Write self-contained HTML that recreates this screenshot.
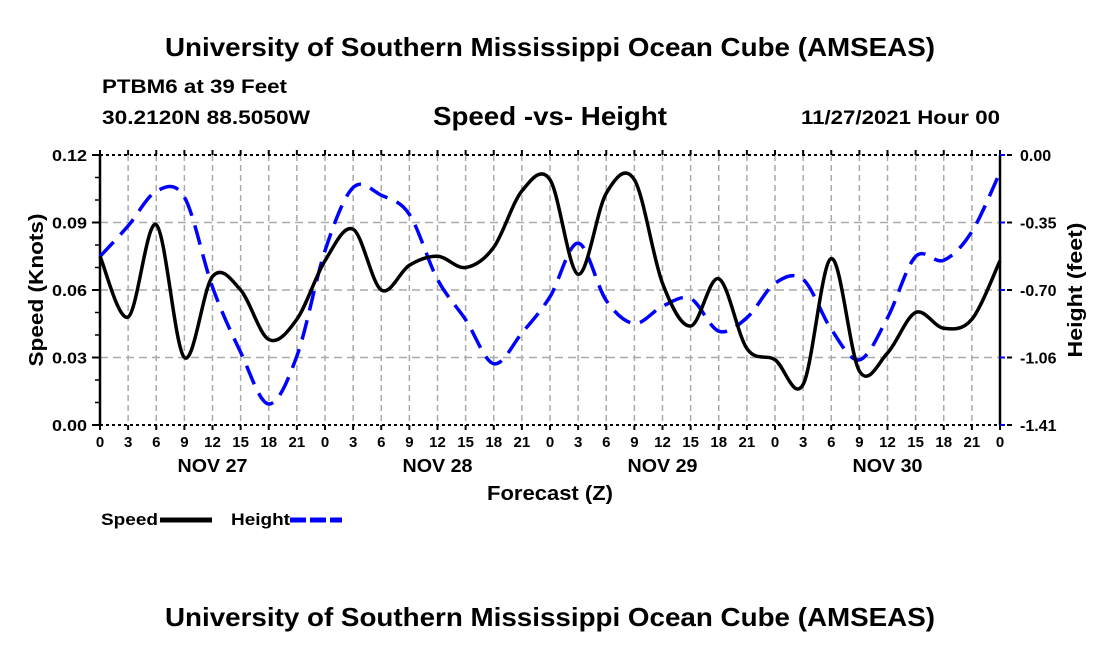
<!DOCTYPE html>
<html><head><meta charset="utf-8"><style>
body{margin:0;background:#fff;width:1100px;height:650px;overflow:hidden;font-family:"Liberation Sans",Arial,sans-serif}
svg text{font-family:"Liberation Sans",Arial,sans-serif;font-weight:bold;fill:#000}
</style></head><body>
<svg id="c" width="1100" height="650">
<text x="165" y="56" font-size="26" textLength="770" lengthAdjust="spacingAndGlyphs">University of Southern Mississippi Ocean Cube (AMSEAS)</text>
<text x="102" y="93" font-size="19" textLength="185" lengthAdjust="spacingAndGlyphs">PTBM6 at 39 Feet</text>
<text x="102" y="124" font-size="19" textLength="208" lengthAdjust="spacingAndGlyphs">30.2120N  88.5050W</text>
<text x="433" y="125" font-size="26" textLength="234" lengthAdjust="spacingAndGlyphs">Speed -vs- Height</text>
<text x="801" y="124" font-size="19" textLength="199" lengthAdjust="spacingAndGlyphs">11/27/2021 Hour 00</text>
<text x="165" y="626" font-size="26" textLength="770" lengthAdjust="spacingAndGlyphs">University of Southern Mississippi Ocean Cube (AMSEAS)</text>
<g id="plot"></g>
</svg>
<script>
const hours=[0,3,6,9,12,15,18,21,24,27,30,33,36,39,42,45,48,51,54,57,60,63,66,69,72,75,78,81,84,87,90,93,96];
const speed=[0.075,0.048,0.089,0.030,0.066,0.060,0.038,0.047,0.073,0.087,0.060,0.071,0.075,0.070,0.079,0.104,0.109,0.067,0.103,0.109,0.063,0.044,0.065,0.034,0.029,0.018,0.074,0.024,0.032,0.050,0.043,0.047,0.073];
const height=[-0.53,-0.37,-0.19,-0.22,-0.69,-1.03,-1.30,-1.05,-0.50,-0.17,-0.21,-0.31,-0.65,-0.86,-1.09,-0.93,-0.74,-0.46,-0.76,-0.88,-0.79,-0.75,-0.92,-0.85,-0.67,-0.65,-0.91,-1.07,-0.85,-0.53,-0.55,-0.40,-0.09];
const speedTicks=["0.00","0.03","0.06","0.09","0.12"];
const heightTicks=["-1.41","-1.06","-0.70","-0.35","0.00"];
const hourLabels=["0","3","6","9","12","15","18","21"];
const dayLabels=["NOV 27","NOV 28","NOV 29","NOV 30"];
const X0=100,X1=1000,Y0=155,Y1=425;
const xs=h=>X0+(X1-X0)*h/96;
const ys=v=>Y1-(Y1-Y0)*v/0.12;
const yh=v=>Y0+(Y1-Y0)*(-v)/1.41;
const g=document.getElementById('plot');const NS="http://www.w3.org/2000/svg";
function el(t,a,txt){const e=document.createElementNS(NS,t);for(const k in a)e.setAttribute(k,a[k]);if(txt!==undefined)e.textContent=txt;g.appendChild(e);return e;}
for(let i=1;i<32;i++){const x=xs(i*3);
const e=el('line',{x1:x,x2:x,y1:Y0,y2:Y1,stroke:'#aaa','stroke-width':1.5,'stroke-dasharray':'6,4'});

}
for(let i=1;i<4;i++){const y=ys(i*0.03);
const e=el('line',{x1:X0,x2:X1,y1:y,y2:y,stroke:'#aaa','stroke-width':1.5,'stroke-dasharray':'8,5'});

}
[Y0,Y1].forEach(y=>{const e=el('line',{x1:X0,x2:X1,y1:y,y2:y,stroke:'#000','stroke-width':2,'stroke-dasharray':'3,3'});

});
let a=el('line',{x1:X0,x2:X0,y1:Y0,y2:Y1,stroke:'#000','stroke-width':2.5});


a=el('line',{x1:X1,x2:X1,y1:Y0,y2:Y1,stroke:'#000','stroke-width':2.5});


for(let i=0;i<=32;i++){const x=xs(i*3);
el('line',{x1:x,x2:x,y1:Y1,y2:Y1+5,stroke:'#000','stroke-width':2});
el('line',{x1:x,x2:x,y1:Y0-5,y2:Y0,stroke:'#000','stroke-width':2});
const t=el('text',{x:x,y:Y1+22,'font-size':15,'text-anchor':'middle'},hourLabels[i%8]);

}
dayLabels.forEach((d,i)=>{const t=el('text',{x:xs(12+24*i)-35,y:Y1+47,'font-size':18,textLength:70,lengthAdjust:'spacingAndGlyphs'},d);

});
speedTicks.forEach((s,i)=>{const y=ys(i*0.03);
el('line',{x1:X0-8,x2:X0,y1:y,y2:y,stroke:'#000','stroke-width':2});
const t=el('text',{x:X0-48,y:y+6,'font-size':16,textLength:35,lengthAdjust:'spacingAndGlyphs'},s);

});
for(let i=0;i<12;i++){if(i%3==0)continue;const y=ys(i*0.01);el('line',{x1:X0-5,x2:X0,y1:y,y2:y,stroke:'#000','stroke-width':1.5});}
heightTicks.forEach((s,i)=>{const y=Y1-(Y1-Y0)*i/4;
el('line',{x1:X1,x2:X1+5,y1:y,y2:y,stroke:'#00f','stroke-width':2});
el('line',{x1:X1+7,x2:X1+12,y1:y,y2:y,stroke:'#000','stroke-width':2});
const t=el('text',{x:X1+20,y:y+6,'font-size':16},s);

});
let t=el('text',{x:0,y:0,'font-size':20,'text-anchor':'middle',textLength:153,lengthAdjust:'spacingAndGlyphs',transform:`translate(43,${(Y0+Y1)/2}) rotate(-90)`},'Speed (Knots)');


t=el('text',{x:0,y:0,'font-size':20,'text-anchor':'middle',textLength:135,lengthAdjust:'spacingAndGlyphs',transform:`translate(1082,${(Y0+Y1)/2}) rotate(-90)`},'Height (feet)');


t=el('text',{x:487,y:500,'font-size':20,textLength:126,lengthAdjust:'spacingAndGlyphs'},'Forecast (Z)');


function path(pts){let d=`M${pts[0][0]},${pts[0][1]}`;for(let i=0;i<pts.length-1;i++){const p0=pts[i-1]||pts[i],p1=pts[i],p2=pts[i+1],p3=pts[i+2]||p2;
d+=` C${p1[0]+(p2[0]-p0[0])/6},${p1[1]+(p2[1]-p0[1])/6} ${p2[0]-(p3[0]-p1[0])/6},${p2[1]-(p3[1]-p1[1])/6} ${p2[0]},${p2[1]}`;}return d;}
let p=el('path',{d:path(hours.map((h,i)=>[xs(h),yh(height[i])])),fill:'none',stroke:'#00f','stroke-width':3.5,'stroke-dasharray':'20,10'});


p=el('path',{d:path(hours.map((h,i)=>[xs(h),ys(speed[i])])),fill:'none',stroke:'#000','stroke-width':3.5});


t=el('text',{x:101,y:525,'font-size':17,textLength:57,lengthAdjust:'spacingAndGlyphs'},'Speed');


p=el('line',{x1:160,x2:212,y1:520,y2:520,stroke:'#000','stroke-width':5});


t=el('text',{x:231,y:525,'font-size':17,textLength:59,lengthAdjust:'spacingAndGlyphs'},'Height');


p=el('line',{x1:290,x2:342,y1:520,y2:520,stroke:'#00f','stroke-width':5,'stroke-dasharray':'16,4'});


</script>
</body></html>
